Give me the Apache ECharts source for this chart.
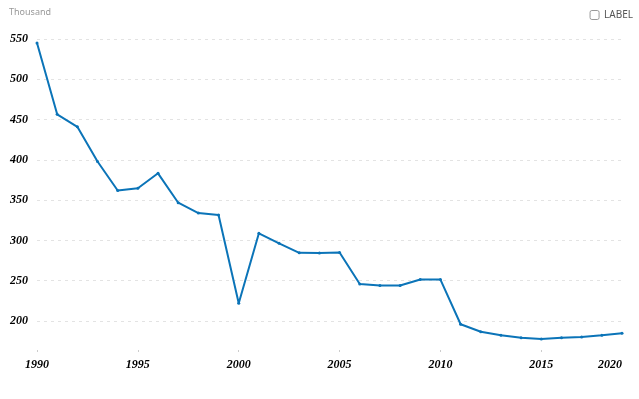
<!DOCTYPE html>
<html>
<head>
<meta charset="utf-8">
<script src="https://cdn.jsdelivr.net/npm/echarts@6/dist/echarts.min.js"></script>
<style>
  html, body { margin: 0; padding: 0; background: #fff; }
  #chart { width: 639px; height: 399px; }
</style>
</head>
<body>
<div id="chart"></div>
<script>
// years on the x axis
var years = ['1990','1991','1992','1993','1994','1995','1996','1997','1998','1999',
             '2000','2001','2002','2003','2004','2005','2006','2007','2008','2009',
             '2010','2011','2012','2013','2014','2015','2016','2017','2018','2019'];
// values in thousands
var values = [545, 456.5, 441, 398, 362, 364.7, 383.3, 346.8, 334, 331.5,
              222, 308.8, 296.4, 284.6, 284.3, 285.1, 246, 244, 244, 251.4,
              251.4, 196, 186.7, 182.2, 179.3, 177.7, 179.3, 180.1, 182.2, 184.7];
// label shown at the right end of the x axis
var lastTickLabel = '2020';
var seriesName = 'LABEL';
var unitName = 'Thousand';

var chart = echarts.init(document.getElementById('chart'));
var lastIndex = years.length - 1;
var labelFont = {
  color: '#000',
  fontFamily: '"Liberation Serif", "Times New Roman", serif',
  fontStyle: 'italic',
  fontWeight: 'bold',
  fontSize: 12
};

var option = {
  animation: false,
  title: {
    text: unitName,
    left: 4,
    top: 3,
    textStyle: {
      color: '#999',
      fontSize: 9,
      fontWeight: 'normal',
      fontFamily: '"Noto Sans", sans-serif'
    }
  },
  legend: {
    right: 1,
    top: 5,
    itemWidth: 9,
    itemHeight: 9,
    itemGap: 10,
    textStyle: { color: '#555', fontSize: 10, fontFamily: '"Noto Sans", sans-serif' },
    data: [{
      name: seriesName,
      icon: 'path://M2,0 H8 Q10,0 10,2 V8 Q10,10 8,10 H2 Q0,10 0,8 V2 Q0,0 2,0 Z',
      itemStyle: { color: '#fff', borderColor: '#999', borderWidth: 1 }
    }]
  },
  grid: {
    left: 37,
    right: 17,
    top: 39,
    bottom: 49
  },
  xAxis: {
    type: 'category',
    boundaryGap: false,
    data: years,
    axisLine: { show: false },
    axisTick: {
      show: true,
      length: 2,
      interval: function (index) { return index % 5 === 0; },
      lineStyle: { color: '#ccc' }
    },
    axisLabel: Object.assign({
      margin: 9,
      interval: function (index) { return index % 5 === 0 || index === lastIndex; },
      formatter: function (value, index) {
        return index === lastIndex ? lastTickLabel : value;
      },
      alignMaxLabel: 'right'
    }, labelFont),
    splitLine: { show: false }
  },
  yAxis: {
    type: 'value',
    min: 164,
    max: 550,
    splitNumber: 8,
    axisLine: { show: false },
    axisTick: { show: false },
    axisLabel: Object.assign({ margin: 9, showMinLabel: false }, labelFont),
    splitLine: {
      show: true,
      showMinLine: false,
      lineStyle: { color: '#e3e3e3', type: [3, 4] }
    }
  },
  series: [{
    name: seriesName,
    type: 'line',
    data: values,
    symbol: 'circle',
    symbolSize: 3,
    lineStyle: { color: '#0b74b8', width: 2 },
    itemStyle: { color: '#0b74b8' }
  }]
};
option && chart.setOption(option);
</script>
</body>
</html>
